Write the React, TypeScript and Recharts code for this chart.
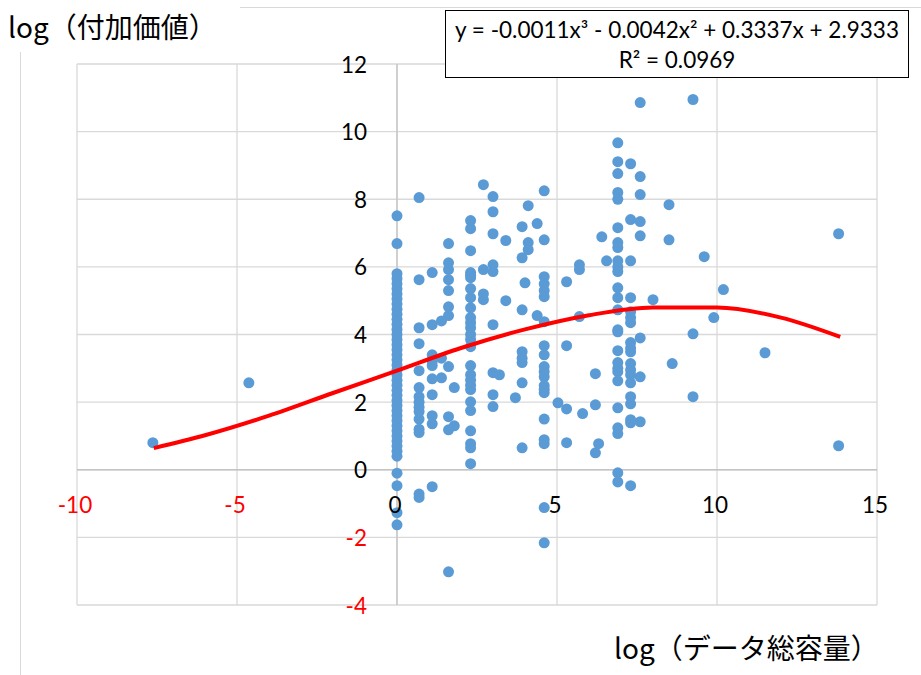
import React from "react";
import {
  ScatterChart,
  Scatter,
  XAxis,
  YAxis,
  CartesianGrid,
  ReferenceLine,
} from "recharts";

// x positions of the point columns (log of data volume)
const columnX = [
  0, 0.69, 1.1, 1.39, 1.61, 1.79, 2.3, 2.7, 3.0, 3.2, 3.4, 3.7, 3.91, 4.0, 4.1,
  4.38, 4.6, 5.03, 5.3, 5.7, 5.8, 6.2, 6.3, 6.4, 6.55, 6.9, 7.3, 7.6, 8.0, 8.5,
  8.6, 9.25, 9.6, 9.9, 10.2, 11.5, 13.8, -4.63, -7.63,
];

// y values (log of added value) for each column above
const columnY = [
  [7.51, 6.69, 5.8, 5.65, 5.5, 5.35, 5.2, 5.05, 4.9, 4.75, 4.6, 4.45, 4.3, 4.15, 4.0, 3.85, 3.7, 3.55, 3.4, 3.25, 3.1, 2.95, 2.8, 2.65, 2.5, 2.35, 2.2, 2.05, 1.9, 1.75, 1.6, 1.45, 1.3, 1.15, 1.0, 0.85, 0.7, 0.55, 0.4, -0.1, -0.47, -1.27, -1.63],
  [8.05, 5.62, 4.2, 3.73, 2.93, 2.43, 2.16, 2.0, 1.85, 1.72, 1.5, 1.2, 1.1, -0.72, -0.82],
  [5.83, 4.29, 3.4, 3.2, 3.08, 2.69, 2.22, 1.6, 1.36, -0.5],
  [4.4, 3.3, 2.72],
  [6.69, 6.12, 5.92, 5.62, 5.3, 4.82, 4.56, 3.05, 1.57, 1.18, -3.02],
  [2.43, 1.3],
  [7.37, 7.13, 6.48, 5.83, 5.75, 5.68, 5.36, 5.09, 4.79, 4.5, 4.35, 4.2, 4.0, 3.85, 3.64, 3.08, 2.81, 2.65, 2.5, 2.37, 2.01, 1.75, 1.15, 0.77, 0.65, 0.18],
  [8.43, 5.92, 5.2, 5.03],
  [8.08, 7.63, 6.98, 6.06, 5.86, 4.29, 2.87, 2.22, 1.87],
  [2.81],
  [6.78, 5.0],
  [2.13],
  [7.19, 6.27, 4.73, 3.49, 3.3, 3.17, 2.57, 0.65],
  [5.53],
  [7.81, 6.72, 6.51],
  [7.28, 4.56],
  [8.25, 6.8, 5.71, 5.5, 5.3, 5.12, 4.38, 3.67, 3.4, 3.05, 2.9, 2.75, 2.49, 2.38, 2.28, 1.5, 0.89, 0.77, -1.12, -2.16],
  [1.98],
  [5.56, 3.67, 1.8, 0.8],
  [6.06, 5.92, 4.53],
  [1.66],
  [2.84, 1.92, 0.5],
  [0.77],
  [6.89],
  [6.18],
  [9.67, 9.11, 8.76, 8.2, 8.0, 7.16, 6.72, 6.57, 6.18, 6.0, 5.86, 5.38, 5.09, 4.73, 4.14, 4.08, 3.52, 3.17, 3.0, 2.9, 2.63, 1.83, 1.24, 1.07, -0.09, -0.36],
  [9.05, 7.4, 6.18, 5.09, 4.67, 4.5, 4.35, 3.76, 3.6, 3.49, 3.14, 2.95, 2.81, 2.57, 2.16, 1.95, 1.48, 1.39, -0.47],
  [10.86, 8.67, 8.14, 7.34, 6.92, 3.9, 2.75, 1.42],
  [5.03],
  [7.84, 6.8],
  [3.14],
  [10.95, 4.02, 2.16],
  [6.3],
  [4.5],
  [5.33],
  [3.46],
  [6.98, 0.71],
  [2.57],
  [0.8],
];

// trend curve
const trendX = [-7.6, -6, -4, -2, 0, 2, 4, 6, 8, 10, 12, 13.85];
const trendY = [0.64, 1.02, 1.6, 2.27, 2.93, 3.6, 4.15, 4.57, 4.8, 4.8, 4.5, 3.93];

const xTicks = [-10, -5, 0, 5, 10, 15];
const yTicks = [-4, -2, 0, 2, 4, 6, 8, 10, 12];

const points = columnX.flatMap((x, i) => columnY[i].map((y) => ({ x, y })));
const trend = trendX.map((x, i) => ({ x, y: trendY[i] }));

const W = 921;
const H = 675;
// plot area: x 77..877, y 64..605
const plotLeft = 77;
const plotRight = 877;
const plotTop = 64;
const plotBottom = 605;
const xAxisH = 30;
const yAxisW = 30;
const margin = {
  top: plotTop,
  right: W - plotRight,
  bottom: H - plotBottom - xAxisH,
  left: plotLeft - yAxisW,
};
const zeroY = plotTop + (12 / 16) * (plotBottom - plotTop);
const zeroX = plotLeft + (10 / 25) * (plotRight - plotLeft);

const tickFont = "Lato, 'Open Sans', sans-serif";

const renderXTick = (props: any) => {
  const { x, payload } = props;
  return (
    <text
      key={`xt-${payload.value}`}
      x={x - 2}
      y={zeroY + 35}
      textAnchor="middle"
      dominantBaseline="central"
      fontSize={22.5}
      fontFamily={tickFont}
      fill={payload.value < 0 ? "#ff0000" : "#000"}
    >
      {payload.value}
    </text>
  );
};

const renderYTick = (props: any) => {
  const { y, payload } = props;
  return (
    <text
      key={`yt-${payload.value}`}
      x={zeroX - 30}
      y={y}
      textAnchor="end"
      dominantBaseline="central"
      fontSize={22.5}
      fontFamily={tickFont}
      fill={payload.value < 0 ? "#ff0000" : "#000"}
    >
      {payload.value}
    </text>
  );
};

const Dot = (props: any) => (
  <circle cx={props.cx} cy={props.cy} r={5.5} fill="#5b9bd5" />
);

const NoDot = () => <g />;

const App: React.FC = () => {
  return (
    <div
      style={{
        position: "absolute",
        left: 0,
        top: 0,
        width: W,
        height: H,
        background: "#fff",
        overflow: "hidden",
      }}
    >
      <div style={{ position: "absolute", left: 240, top: 7, width: W - 240, height: 1, background: "#d9d9d9" }} />
      <div style={{ position: "absolute", left: 20, top: 52, width: 1, height: H - 52, background: "#d9d9d9" }} />
      <div style={{ position: "absolute", left: 0, top: 0 }}>
        <ScatterChart width={W} height={H} margin={margin}>
          <CartesianGrid stroke="#d9d9d9" strokeWidth={1.3} />
          <XAxis
            type="number"
            dataKey="x"
            domain={[-10, 15]}
            ticks={xTicks}
            interval={0}
            height={xAxisH}
            axisLine={false}
            tickLine={false}
            tick={renderXTick}
            allowDataOverflow
          />
          <YAxis
            type="number"
            dataKey="y"
            domain={[-4, 12]}
            ticks={yTicks}
            interval={0}
            width={yAxisW}
            axisLine={false}
            tickLine={false}
            tick={renderYTick}
            allowDataOverflow
          />
          <ReferenceLine x={0} stroke="#c4c4c4" strokeWidth={1.3} />
          <ReferenceLine y={0} stroke="#c4c4c4" strokeWidth={1.3} />
          <Scatter data={points} shape={<Dot />} isAnimationActive={false} />
          <Scatter
            data={trend}
            shape={<NoDot />}
            line={{ stroke: "#ff0000", strokeWidth: 4 }}
            lineType="joint"
            lineJointType="monotoneX"
            isAnimationActive={false}
          />
        </ScatterChart>
      </div>
      <div
        style={{
          position: "absolute",
          left: 8,
          top: 6,
          fontSize: 28,
          lineHeight: "40px",
          fontFamily: "'Noto Sans CJK JP', sans-serif",
          color: "#000",
          whiteSpace: "nowrap",
        }}
      >
        log（付加価値）
      </div>
      <div
        style={{
          position: "absolute",
          left: 614,
          top: 627,
          fontSize: 28,
          lineHeight: "40px",
          fontFamily: "'Noto Sans CJK JP', sans-serif",
          color: "#000",
          whiteSpace: "nowrap",
        }}
      >
        log（データ総容量）
      </div>
      <div
        style={{
          position: "absolute",
          left: 445,
          top: 10,
          width: 464,
          height: 68,
          border: "1.5px solid #000",
          background: "#fff",
          fontFamily: tickFont,
          fontSize: 22.5,
          lineHeight: "30px",
          textAlign: "center",
          color: "#000",
          paddingTop: 4,
          boxSizing: "border-box",
          whiteSpace: "nowrap",
        }}
      >
        <div>y = -0.0011x³ - 0.0042x² + 0.3337x + 2.9333</div>
        <div>R² = 0.0969</div>
      </div>
    </div>
  );
};

export default App;
